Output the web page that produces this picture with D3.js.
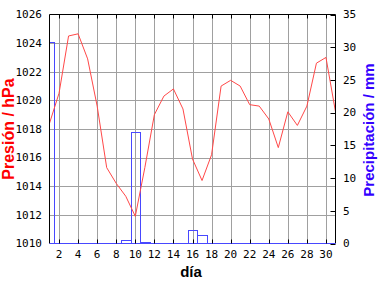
<!DOCTYPE html>
<html>
<head>
<meta charset="utf-8">
<script src="https://d3js.org/d3.v7.min.js"></script>
<style>
  body { margin: 0; background: #fff; }
  text { font-family: "DejaVu Sans Mono", monospace; }
</style>
</head>
<body>
<div id="chart"></div>
<script>
// daily values
var days = d3.range(1, 32);
var pressure = [1018.4, 1020.5, 1024.5, 1024.65, 1022.9, 1019.6, 1015.3, 1014.2, 1013.3, 1011.9,
                1015.3, 1019.0, 1020.3, 1020.8, 1019.4, 1015.9, 1014.4, 1016.2, 1021.0, 1021.4,
                1021.0, 1019.7, 1019.6, 1018.7, 1016.7, 1019.2, 1018.25, 1019.6, 1022.6, 1023.0, 1019.2];
var rain = [30.8, 0, 0, 0, 0, 0, 0, 0, 0.6, 17.1,
            0.2, 0, 0, 0, 0, 2.0, 1.3, 0, 0, 0,
            0, 0, 0, 0, 0, 0, 0, 0, 0, 0, 0];
var dayTicks = d3.range(2, 31, 2);
var presTicks = d3.range(1010, 1027, 2);
var rainTicks = d3.range(0, 36, 5);

var W = 384, H = 288;
var pL = 49.5, pR = 335.5, pT = 14.5, pB = 243.5;

var svg = d3.select("#chart").append("svg")
    .attr("width", W).attr("height", H);

var x = d3.scaleLinear().domain([1, 31]).range([pL, pR]);
var y = d3.scaleLinear().domain([1010, 1026]).range([pB, pT]);
var y2 = d3.scaleLinear().domain([0, 35]).range([pB, pT]);

svg.append("defs").append("clipPath").attr("id", "plot")
    .append("rect").attr("x", pL).attr("y", pT)
    .attr("width", pR - pL).attr("height", pB - pT);

// grid
svg.append("g").selectAll("line").data(dayTicks).join("line")
    .attr("x1", d => Math.round(x(d)) + 0.5).attr("x2", d => Math.round(x(d)) + 0.5)
    .attr("y1", pT).attr("y2", pB)
    .attr("stroke", "#a0a0a0");
svg.append("g").selectAll("line").data(presTicks.slice(1, -1)).join("line")
    .attr("x1", pL).attr("x2", pR)
    .attr("y1", d => Math.round(y(d)) + 0.5).attr("y2", d => Math.round(y(d)) + 0.5)
    .attr("stroke", "#a0a0a0");

// precipitation bars
svg.append("g").attr("clip-path", "url(#plot)")
    .selectAll("rect").data(days.filter((d, i) => rain[i] > 0)).join("rect")
    .attr("x", d => Math.round(x(d - 0.5)) + 0.5)
    .attr("width", d => Math.round(x(d + 0.5)) - Math.round(x(d - 0.5)))
    .attr("y", d => Math.round(y2(rain[d - 1])) + 0.5)
    .attr("height", d => pB - (Math.round(y2(rain[d - 1])) + 0.5))
    .attr("fill", "none").attr("stroke", "#4848ff");

// pressure line
var line = d3.line().x((d, i) => x(days[i])).y(d => y(d));
svg.append("path").datum(pressure)
    .attr("d", line)
    .attr("fill", "none").attr("stroke", "#ff4848").attr("stroke-width", 1);

// frame
svg.append("path")
    .attr("d", "M" + pL + "," + pB + "V" + pT + "H" + pR + "V" + pB)
    .attr("fill", "none").attr("stroke", "#000");
svg.append("line").attr("x1", pL).attr("x2", pR)
    .attr("y1", pB).attr("y2", pB).attr("stroke", "#4848ff");

// ticks on top and bottom
var tk = svg.append("g");
tk.selectAll(".tt").data(dayTicks).join("line")
    .attr("x1", d => Math.round(x(d)) + 0.5).attr("x2", d => Math.round(x(d)) + 0.5)
    .attr("y1", pT).attr("y2", pT + 4).attr("stroke", "#000");
tk.selectAll(".tb").data(dayTicks).join("line")
    .attr("x1", d => Math.round(x(d)) + 0.5).attr("x2", d => Math.round(x(d)) + 0.5)
    .attr("y1", pB - 4).attr("y2", pB).attr("stroke", "#000");
tk.selectAll(".tr").data(rainTicks).join("line")
    .attr("x1", pR - 5).attr("x2", pR)
    .attr("y1", d => Math.round(y2(d)) + 0.5).attr("y2", d => Math.round(y2(d)) + 0.5)
    .attr("stroke", "#000");

// tick labels
svg.append("g").selectAll("text").data(presTicks).join("text")
    .attr("x", 42).attr("y", d => y(d)).attr("dy", "0.35em")
    .attr("text-anchor", "end").attr("font-size", 11)
    .text(d => d);
svg.append("g").selectAll("text").data(rainTicks).join("text")
    .attr("x", 343).attr("y", d => y2(d)).attr("dy", "0.35em")
    .attr("font-size", 11)
    .text(d => d);
svg.append("g").selectAll("text").data(dayTicks).join("text")
    .attr("x", d => x(d)).attr("y", 254).attr("dy", "0.35em")
    .attr("text-anchor", "middle").attr("font-size", 11)
    .text(d => d);

// axis titles
svg.append("text").attr("x", 191).attr("y", 277)
    .attr("text-anchor", "middle")
    .style("font-family", "Liberation Sans").style("font-weight", "bold").attr("font-size", 15)
    .text("día");
svg.append("text").attr("transform", "translate(14,129) rotate(-90)")
    .attr("text-anchor", "middle")
    .style("font-family", "Liberation Sans").style("font-weight", "bold").attr("font-size", 16)
    .attr("fill", "#ff0000")
    .text("Presión / hPa");
svg.append("text").attr("transform", "translate(374,130) rotate(-90)")
    .attr("text-anchor", "middle")
    .style("font-family", "Liberation Sans").style("font-weight", "bold").attr("font-size", 15)
    .attr("fill", "#3300ff")
    .text("Precipitación / mm");
</script>
</body>
</html>
